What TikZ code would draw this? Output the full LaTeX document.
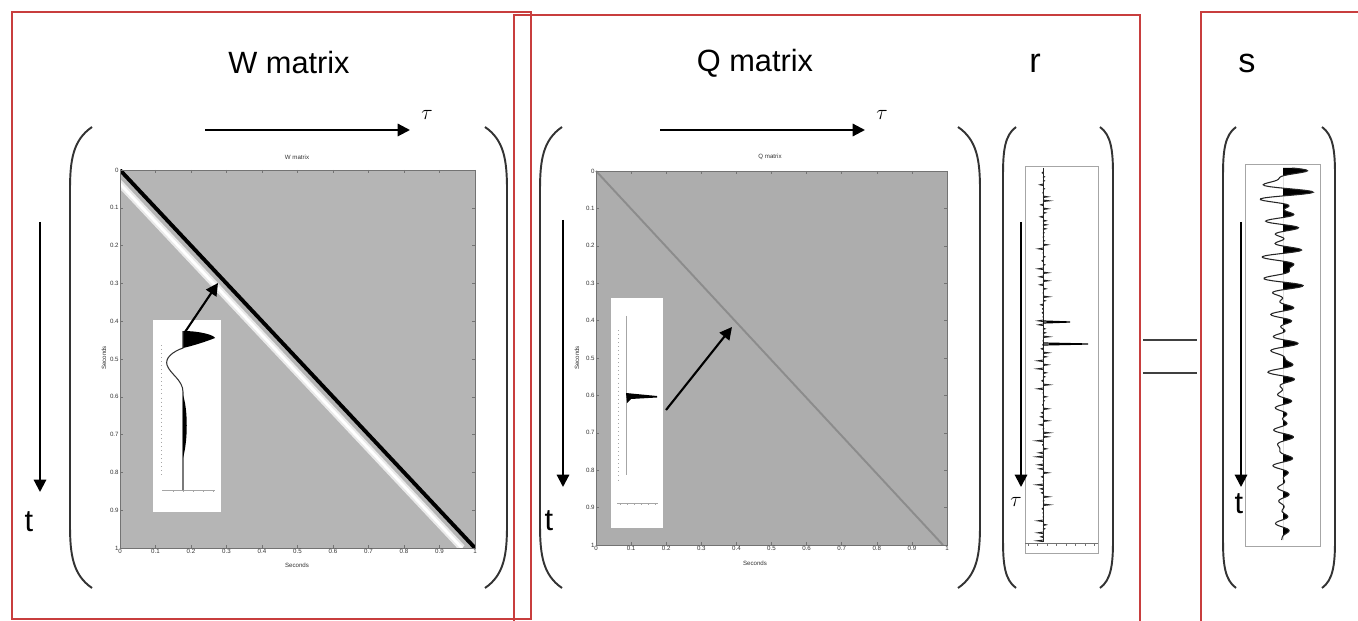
\documentclass[tikz,border=0pt]{standalone}
\usepackage{fontspec}
\setmainfont{Liberation Sans}
\usetikzlibrary{arrows.meta}
\definecolor{framered}{RGB}{200,62,62}
\definecolor{wgray}{RGB}{181,181,181}
\definecolor{qgray}{RGB}{173,173,173}

\begin{document}
\begin{tikzpicture}[x=0.02cm, y=-0.02cm,
        frame/.style={draw=framered, line width=1.1pt},
        paren/.style={draw=black!80, line width=1.1pt},
        axarrow/.style={-{Triangle[length=7pt,width=7pt]}, line width=1.2pt},
        lbl/.style={font=\fontsize{17.5}{20}\selectfont, inner sep=0pt},
        biglbl/.style={font=\fontsize{19.5}{22}\selectfont, inner sep=0pt},
        taulbl/.style={font=\fontsize{13}{15}\selectfont, inner sep=0pt},
        tinylbl/.style={font=\fontsize{3.5}{4}\selectfont, inner sep=0.6pt, text=black!80},
        plotbox/.style={draw=black!55, line width=0.3pt},
        insetax/.style={draw=black!35, line width=0.3pt},
        declare function={swig(\u)=35*exp(-\u/260)*(0.65*sin(19*\u)*(0.7+0.3*sin(4*\u+30))+0.35*sin(31*\u+50));}
    ]
    \useasboundingbox (0,0) rectangle (1358,621);

    % Rahmen
    \draw[frame] (12,12) rectangle (531,619);
    \draw[frame] (514,15) rectangle (1140,625);
    \draw[frame] (1201,12) rectangle (1362,625);

    % Titel
    \node[lbl] (wtitle) at (289,63) {W matrix};
    \node[lbl] (qtitle) at (755,63) {Q matrix};
    \node[biglbl] (rtitle) at (1035,63) {r};
    \node[biglbl] (stitle) at (1247,63) {s};

    % Klammern
    \draw[paren] (92,127) .. controls (73,140) and (70,160) .. (70,190) -- (70,525) .. controls (70,555) and (73,575) .. (92,588);
    \draw[paren] (485,127) .. controls (504,140) and (507,160) .. (507,190) -- (507,525) .. controls (507,555) and (504,575) .. (485,588);
    \draw[paren] (562,127) .. controls (543,140) and (540,160) .. (540,190) -- (540,525) .. controls (540,555) and (543,575) .. (562,588);
    \draw[paren] (958,127) .. controls (977,140) and (980,160) .. (980,190) -- (980,525) .. controls (980,555) and (977,575) .. (958,588);
    \draw[paren] (1016,127) .. controls (1005,135) and (1003,150) .. (1003,175) -- (1003,540) .. controls (1003,565) and (1005,580) .. (1016,588);
    \draw[paren] (1100,127) .. controls (1111,135) and (1113,150) .. (1113,175) -- (1113,540) .. controls (1113,565) and (1111,580) .. (1100,588);
    \draw[paren] (1236,127) .. controls (1225,135) and (1223,150) .. (1223,175) -- (1223,540) .. controls (1223,565) and (1225,580) .. (1236,588);
    \draw[paren] (1322,127) .. controls (1333,135) and (1335,150) .. (1335,175) -- (1335,540) .. controls (1335,565) and (1333,580) .. (1322,588);

    % Gleichheitszeichen
    \coordinate (eq1a) at (1143,340); \coordinate (eq1b) at (1197,340);
    \coordinate (eq2a) at (1143,373); \coordinate (eq2b) at (1197,373);
    \draw[black!75, line width=0.9pt] (eq1a) -- (eq1b) (eq2a) -- (eq2b);

    % ---------- W matrix ----------
    \fill[wgray] (120,170) rectangle (475,548);
    \begin{scope}
        \clip (120,170) rectangle (475,548);
        \draw[white!70!wgray, line width=4pt] (107,170) -- (462,548);
        \draw[white, line width=1.6pt] (107,170) -- (462,548);
        \draw[black, line width=2.2pt] (120,170) -- (475,548);
    \end{scope}
    \draw[plotbox] (120,170) rectangle (475,548);
    \foreach \i/\l in {0/0,1/0.1,2/0.2,3/0.3,4/0.4,5/0.5,6/0.6,7/0.7,8/0.8,9/0.9,10/1} {
        \draw[plotbox] (120+35.5*\i,548) -- ++(0,-3) (120+35.5*\i,170) -- ++(0,3)
            (120,170+37.8*\i) -- ++(3,0) (475,170+37.8*\i) -- ++(-3,0);
        \node[tinylbl, below] (wx\i) at (120+35.5*\i,548) {\l};
        \node[tinylbl, left] (wy\i) at (120,170+37.8*\i) {\l};
    }
    \node[tinylbl] (wplot) at (297,157) {W matrix};
    \node[tinylbl] (wxlab) at (297,565) {Seconds};
    \node[tinylbl, rotate=90] (wylab) at (104,358) {Seconds};

    % Einschub Wavelet
    \fill[white] (153,320) rectangle (221,512);
    \draw[insetax, dotted] (161,345) -- (161,475);
    \draw[insetax] (162,490) -- (215,490);
    \foreach \k in {0,...,4} \draw[insetax] (173+10*\k,490) -- ++(0,2);
    \fill[black] (183,331) .. controls (200,331) and (214,335) .. (215,338)
        .. controls (205,342) and (192,346) .. (183,348) -- cycle;
    \draw[black!80, line width=0.6pt] (183,331) -- (183,348) .. controls (172,352) and (165,358) .. (167,365)
        .. controls (170,374) and (183,380) .. (183,392) -- (183,490);
    \fill[black] (183,395) .. controls (188,410) and (188,440) .. (183,458) -- cycle;
    \coordinate (wfrom) at (185,332);
    \coordinate (wto) at (218,283);
    \draw[axarrow] (wfrom) -- (wto);

    % Achsenpfeile W
    \coordinate (wtau0) at (205,130); \coordinate (wtau1) at (410,130);
    \draw[axarrow] (wtau0) -- (wtau1);
    \node[taulbl] (wtau) at (427,115) {$\tau$};
    \coordinate (wt0) at (40,222); \coordinate (wt1) at (40,492);
    \draw[axarrow] (wt0) -- (wt1);
    \node[lbl] (wt) at (29,522) {t};

    % ---------- Q matrix ----------
    \fill[qgray] (596,171) rectangle (947,545);
    \draw[black!45, line width=1.1pt] (596,171) -- (943,545);
    \draw[plotbox] (596,171) rectangle (947,545);
    \foreach \i/\l in {0/0,1/0.1,2/0.2,3/0.3,4/0.4,5/0.5,6/0.6,7/0.7,8/0.8,9/0.9,10/1} {
        \draw[plotbox] (596+35.1*\i,545) -- ++(0,-3) (596+35.1*\i,171) -- ++(0,3)
            (596,171+37.4*\i) -- ++(3,0) (947,171+37.4*\i) -- ++(-3,0);
        \node[tinylbl, below] (qx\i) at (596+35.1*\i,545) {\l};
        \node[tinylbl, left] (qy\i) at (596,171+37.4*\i) {\l};
    }
    \node[tinylbl] (qplot) at (770,157) {Q matrix};
    \node[tinylbl] (qxlab) at (755,563) {Seconds};
    \node[tinylbl, rotate=90] (qylab) at (577,358) {Seconds};

    % Einschub Spike
    \fill[white] (611,298) rectangle (663,528);
    \draw[insetax] (626,316) -- (626,475);
    \draw[insetax, dotted] (618,330) -- (618,480);
    \draw[insetax] (617,503) -- (658,503);
    \foreach \k in {0,...,5} \draw[insetax] (620+7*\k,503) -- ++(0,2);
    \fill[black] (626,393) -- (657,396) -- (657,397.5) -- (631,399) -- (627,403) -- cycle;
    \coordinate (qfrom) at (666,410);
    \coordinate (qto) at (732,327);
    \draw[axarrow] (qfrom) -- (qto);

    % Achsenpfeile Q
    \coordinate (qtau0) at (660,130); \coordinate (qtau1) at (865,130);
    \draw[axarrow] (qtau0) -- (qtau1);
    \node[taulbl] (qtau) at (882,115) {$\tau$};
    \coordinate (qt0) at (563,220); \coordinate (qt1) at (563,487);
    \draw[axarrow] (qt0) -- (qt1);
    \node[lbl] (qt) at (549,521) {t};

    % ---------- r ----------
    \fill[white] (1025,166) rectangle (1098,553);
    \draw[insetax] (1025,166) rectangle (1098,553);
    \draw[black!55, line width=0.4pt] (1025,543) -- (1098,543);
    \foreach \k in {0,...,7} \draw[black!55, line width=0.3pt] (1028+9.5*\k,543) -- ++(0,3);
    \draw[black!85, line width=0.5pt] (1043,168) -- (1043,542);
    \pgfmathsetseed{7}
    \foreach \k in {0,...,92} {
        \pgfmathsetmacro\yy{172+4*\k}
        \pgfmathsetmacro\aa{7*rand}
        \draw[black!85, line width=0.5pt] (1043,\yy) -- ++(\aa,0.8) -- (1043,\yy+1.6);
    }
    \draw[black, line width=0.7pt] (1043,321) -- (1070,322) -- (1043,323);
    \draw[black, line width=0.7pt] (1043,343) -- (1088,344) -- (1043,345);
    \coordinate (rt0) at (1021,222); \coordinate (rt1) at (1021,487);
    \draw[axarrow] (rt0) -- (rt1);
    \node[taulbl] (rtau) at (1016,502) {$\tau$};

    % ---------- s ----------
    \fill[white] (1245,164) rectangle (1320,546);
    \draw[insetax] (1245,164) rectangle (1320,546);
    \draw[insetax, dotted] (1245,546) -- (1320,546);
    \begin{scope}
        \clip (1283,160) rectangle (1330,550);
        \fill[black] (1283,168) -- plot[domain=168:540, samples=400, variable=\t] ({1283+swig(\t-168)}, \t) -- (1283,540) -- cycle;
    \end{scope}
    \draw[black!85, line width=0.6pt] plot[domain=168:540, samples=400, variable=\t] ({1283+swig(\t-168)}, \t);
    \coordinate (st0) at (1241,222); \coordinate (st1) at (1241,487);
    \draw[axarrow] (st0) -- (st1);
    \node[lbl] (st) at (1239,504) {t};
\end{tikzpicture}
\end{document}
